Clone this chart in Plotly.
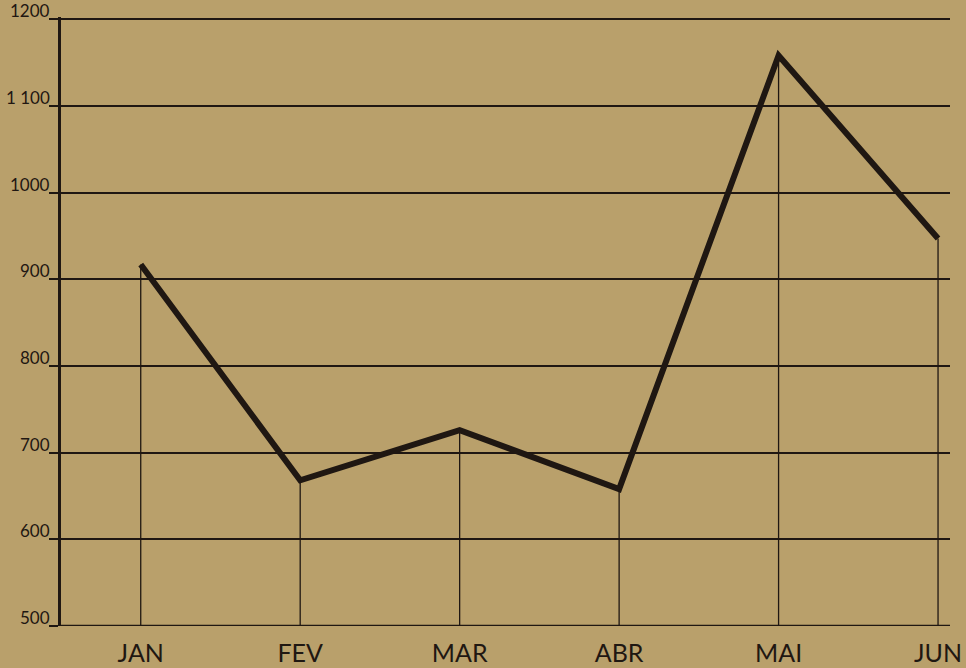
import plotly.graph_objects as go

# Dados do gráfico
meses = ["JAN", "FEV", "MAR", "ABR", "MAI", "JUN"]
valores = [917, 668, 726, 658, 1158, 947]
y_ticks = [500, 600, 700, 800, 900, 1000, 1100, 1200]
y_labels = ["500", "600", "700", "800", "900", "1000", "1 100", "1200"]

tinta = "#1f1712"
papel = "#b9a06b"

fig = go.Figure()

# Linhas verticais de cada mês até a base
for m, v in zip(meses, valores):
    fig.add_trace(go.Scatter(
        x=[m, m], y=[y_ticks[0], v], mode="lines",
        line=dict(color=tinta, width=1.3), hoverinfo="skip", showlegend=False))

# Linha principal
fig.add_trace(go.Scatter(
    x=meses, y=valores, mode="lines",
    line=dict(color=tinta, width=6), showlegend=False))

fig.update_layout(
    width=966, height=668,
    paper_bgcolor=papel, plot_bgcolor=papel,
    margin=dict(l=61, r=16, t=17, b=42),
    font=dict(family="Lato, 'Noto Sans', sans-serif", color=tinta),
)

fig.update_xaxes(
    range=[-0.5, 5.075], showgrid=False, zeroline=False, automargin=False,
    showline=False, ticks="", ticklabelstandoff=10,
    tickfont=dict(size=25, color=tinta),
)

fig.update_yaxes(
    range=[y_ticks[0], y_ticks[-1] + 2.5], tickvals=y_ticks,
    showticklabels=False, automargin=False,
    showgrid=True, gridcolor=tinta, gridwidth=1.5, zeroline=False,
    showline=True, linecolor=tinta, linewidth=3, mirror=False,
    ticks="outside", ticklen=9, tickcolor=tinta, tickwidth=1.5,
)

# Rótulos do eixo Y, acima de cada traço
for v, t in zip(y_ticks, y_labels):
    fig.add_annotation(
        x=0, xref="paper", y=v, yref="y", text=t, showarrow=False,
        xanchor="right", yanchor="bottom", xshift=-9, yshift=-4,
        font=dict(size=17, color=tinta))

# Linha de base (500) mais grossa
fig.add_hline(y=y_ticks[0], line=dict(color=tinta, width=2.5))

fig.write_html("out.html", config={"displayModeBar": False},
               post_script="document.body.style.margin='0';")
